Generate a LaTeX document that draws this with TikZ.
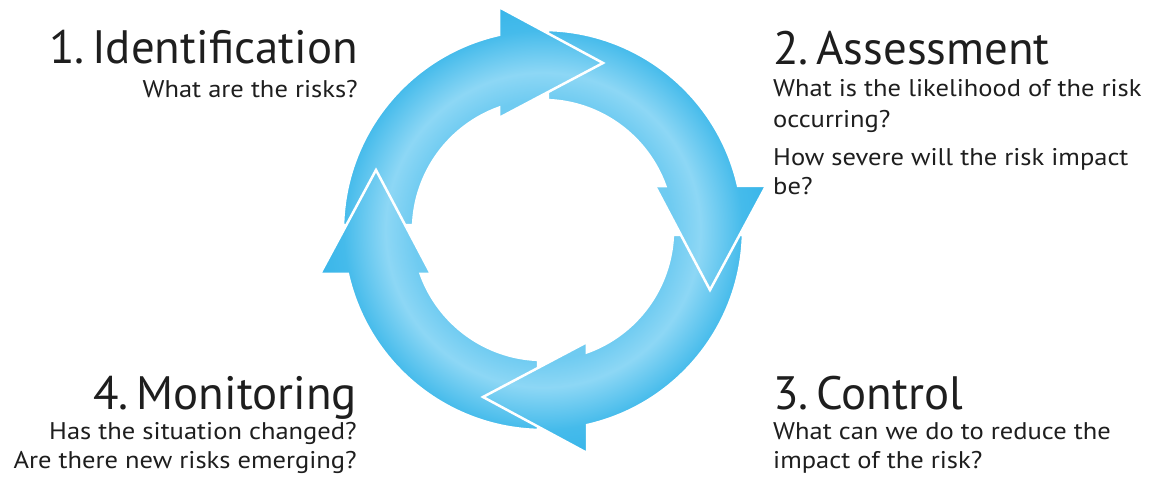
\documentclass[tikz,border=0pt]{standalone}
\usepackage{fontspec}
\setmainfont{PT Sans}
\newfontfamily\subfont{PT Sans}[FakeStretch=1.1]
\definecolor{rA}{HTML}{6FCBF1}
\definecolor{rB}{HTML}{8DD7F5}
\definecolor{rC}{HTML}{45BBEB}
\definecolor{rD}{HTML}{33B3E9}
\definecolor{txt}{HTML}{1E1E1E}
\pgfdeclareradialshading{ringshade}{\pgfpoint{0bp}{0bp}}{color(0bp)=(rA); color(13.5bp)=(rA); color(16.4bp)=(rB); color(20.8bp)=(rC); color(25bp)=(rD); color(50bp)=(rD)}
\tikzset{
  arrowshape/.style={insert path={(178.57:200) arc[start angle=178.57,end angle=102.71,radius=200] -- (-44,223) -- (60,167) -- (-44,112) -- (109.77:130) arc[start angle=109.77,end angle=177.80,radius=130] -- cycle}},
  outline/.style={draw=white, line width=2.5bp, line join=miter},
  title/.style={inner sep=0pt, text=txt, font=\fontsize{47}{52}\selectfont},
  sub/.style={inner sep=0pt, text=txt, font=\subfont\fontsize{24.2}{28}\selectfont},
}
\newcommand\cyclearrow[1]{%
  \begin{scope}[shift={(C)}, rotate=#1]
    \begin{scope}
      \path[clip, arrowshape];
      \shade[shading=ringshade] (0,0) circle (240);
    \end{scope}
    \path[outline, arrowshape];
  \end{scope}}
\begin{document}
\begin{tikzpicture}[x=1bp,y=1bp]
\useasboundingbox[fill=white] (0,0) rectangle (1149,481);
\coordinate (C) at (543,251);
% arrows: 4,3,2,1 then the head of 4 again over the tail of 1
\cyclearrow{90}
\cyclearrow{-180}
\cyclearrow{-90}
\cyclearrow{0}
\begin{scope}
  \clip (290,241) rectangle (470,360);
  \cyclearrow{90}
\end{scope}
% texts
\node[title, anchor=base east] (t1) at (358,417) {1.\,Identification};
\node[sub, anchor=base east] (s1) at (358,383) {What are the risks?};
\node[title, anchor=base west] (t2) at (773,416) {2.\,Assessment};
\node[sub, anchor=base west] (s2a) at (773,384) {What is the likelihood of the risk};
\node[sub, anchor=base west] (s2b) at (773,353) {occurring?};
\node[sub, anchor=base west] (s2c) at (773,315) {How severe will the risk impact};
\node[sub, anchor=base west] (s2d) at (773,286) {be?};
\node[title, anchor=base west] (t3) at (773,71) {3.\,Control};
\node[sub, anchor=base west] (s3a) at (773,41) {What can we do to reduce the};
\node[sub, anchor=base west] (s3b) at (773,12) {impact of the risk?};
\node[title, anchor=base east] (t4) at (357,71) {4.\,Monitoring};
\node[sub, anchor=base east] (s4a) at (357,41) {Has the situation changed?};
\node[sub, anchor=base east] (s4b) at (357,12) {Are there new risks emerging?};
\end{tikzpicture}
\end{document}
